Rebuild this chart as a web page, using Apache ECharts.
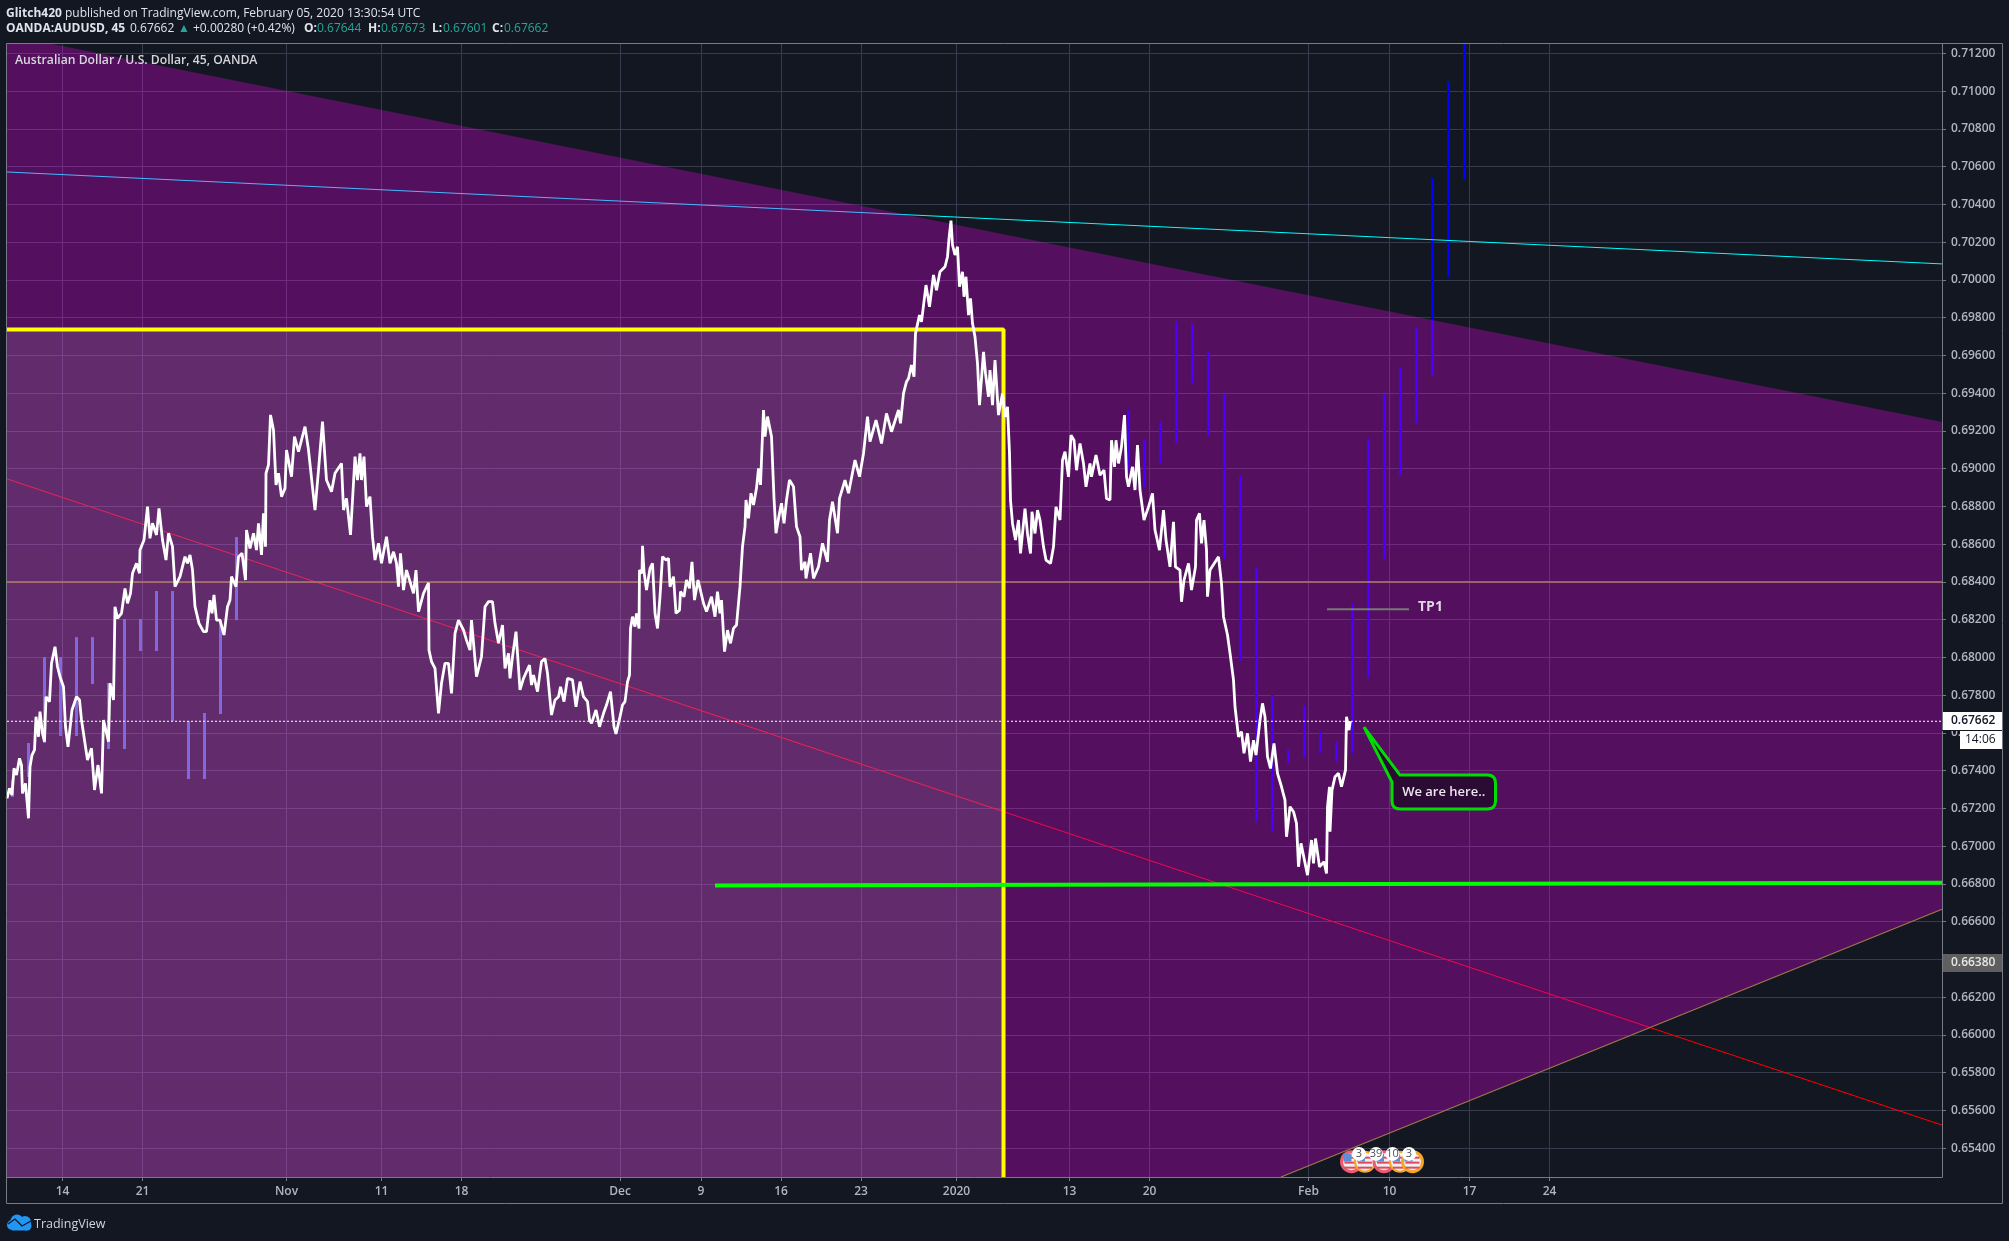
<!DOCTYPE html>
<html><head><meta charset="utf-8">
<style>html,body{margin:0;padding:0;background:#131722}#c{width:2009px;height:1241px}</style>
<script src="https://cdn.jsdelivr.net/npm/echarts@6/dist/echarts.min.js"></script>
</head><body><div id="c"></div>
<script>
// ---- axis definitions (x = 45-minute bar number, y = AUD/USD price)
const timeTickBars = [111,271,559,749,909,1226,1388,1548,1708,1899,2125,2285,2603,2765,2925,3085];
const timeTickLabels = ['14','21','Nov','11','18','Dec','9','16','23','2020','13','20','Feb','10','17','24'];
const priceTicks = [0.654,0.656,0.658,0.660,0.662,0.664,0.666,0.668,0.670,0.672,0.674,0.676,0.678,0.680,0.682,0.684,0.686,0.688,0.690,0.692,0.694,0.696,0.698,0.700,0.702,0.704,0.706,0.708,0.710,0.712];
const barMax = 3870, priceMin = 0.652477, priceMax = 0.7125;

// ---- AUD/USD close path [bar, price]
const pricePoints = [
[0,.67254],[5,.67307],[10,.67271],[14,.67413],[19,.67377],[25,.67466],[29,.6743],[31,.6728],[37,.67333],[43,.67148],[46,.67421],[50,.67483],[55,.6751],[58,.67686],[63,.6758],[66,.67713],[71,.67598],[75,.67554],[78,.67792],[85,.67766],[89,.67969],[96,.68057],[101,.67951],[106,.67898],[113,.67845],[117,.67633],[122,.67527],[126,.67519],[130,.67722],[139,.67792],[145,.67775],[149,.67669],[157,.67527],[161,.67457],[169,.67519],[175,.67298],[182,.6743],[189,.6728],[193,.67669],[203,.67554],[206,.67863],[213,.67775],[216,.68269],[221,.68207],[229,.68234],[236,.68366],[241,.68287],[247,.6834],[251,.68446],[259,.68499],[265,.68446],[266,.68569],[274,.68622],[281,.68799],[286,.68631],[291,.68711],[299,.68649],[304,.6879],[311,.68622],[318,.68516],[323,.68658],[331,.68587],[336,.68375],[346,.68428],[356,.68534],[361,.68499],[366,.68543],[371,.68463],[376,.68269],[384,.68181],[393,.68137],[399,.68137],[406,.68304],[410,.68234],[414,.68331],[419,.68198],[426,.68198],[434,.68119],[441,.68269],[446,.68304],[449,.68428],[458,.68375],[463,.68534],[470,.68552],[477,.6841],[479,.68675],[486,.68578],[493,.68658],[499,.68569],[503,.68711],[509,.68543],[513,.68764],[517,.68587],[518,.68976],[523,.6902],[527,.69285],[533,.69205],[538,.68914],[543,.68976],[549,.68852],[556,.68896],[559,.69099],[569,.68958],[575,.6917],[583,.6909],[596,.69223],[603,.69099],[613,.68852],[616,.68781],[623,.68993],[631,.69249],[639,.6894],[649,.68878],[656,.68976],[669,.69028],[673,.68781],[679,.68843],[687,.68649],[696,.69064],[701,.6894],[706,.69081],[709,.6894],[714,.69064],[719,.68799],[726,.68852],[731,.6864],[736,.68516],[743,.68605],[749,.68499],[759,.6864],[766,.68499],[773,.6856],[779,.68499],[783,.68375],[787,.68552],[793,.68357],[799,.68463],[806,.68402],[813,.6834],[818,.68463],[823,.68243],[827,.68234],[833,.6834],[843,.68396],[844,.68039],[849,.67978],[856,.67942],[863,.67704],[869,.67863],[876,.67969],[883,.67969],[889,.6781],[896,.68128],[903,.68198],[913,.68145],[919,.68092],[926,.68039],[929,.68198],[939,.67898],[949,.68004],[956,.68269],[963,.68296],[971,.68296],
[976,.68181],[983,.68075],[991,.68172],[996,.67942],[1003,.68022],[1006,.67889],[1011,.68004],[1018,.68137],[1026,.67828],[1033,.67889],[1045,.6796],[1049,.67854],[1053,.67907],[1061,.67819],[1069,.67978],[1076,.67995],[1081,.67916],[1089,.67695],[1096,.67775],[1103,.67792],[1107,.67845],[1114,.67766],[1121,.67889],[1131,.67881],[1138,.67739],[1146,.67872],[1153,.67792],[1161,.67766],[1165,.67669],[1169,.67651],[1178,.67722],[1185,.67633],[1193,.67704],[1199,.67748],[1207,.67819],[1214,.67633],[1218,.67595],[1226,.67686],[1231,.67748],[1236,.67766],[1241,.67871],[1245,.67907],[1247,.68154],[1251,.68216],[1256,.68163],[1259,.68234],[1264,.68154],[1265,.68463],[1270,.68446],[1271,.68592],[1274,.68455],[1279,.68357],[1286,.68472],[1291,.68499],[1296,.68234],[1301,.68154],[1306,.68322],[1311,.68534],[1318,.68516],[1323,.68525],[1326,.68375],[1333,.68428],[1338,.68234],[1345,.68251],[1347,.68349],[1354,.68322],[1359,.6841],[1365,.68366],[1370,.68507],[1375,.68304],[1382,.6841],[1393,.68287],[1399,.68243],[1409,.68322],[1416,.68216],[1421,.68349],[1426,.68234],[1429,.68304],[1435,.68031],[1441,.68145],[1447,.68075],[1453,.68154],[1459,.68172],[1466,.68375],[1471,.68587],[1476,.68693],[1478,.68834],[1483,.68737],[1488,.6887],[1493,.68808],[1499,.68896],[1503,.69002],[1507,.68914],[1513,.69311],[1516,.6917],[1521,.69276],[1529,.6917],[1534,.68843],[1538,.68658],[1545,.68764],[1549,.68817],[1554,.68711],[1559,.68834],[1565,.6894],[1573,.68905],[1579,.68693],[1586,.6864],[1589,.68463],[1596,.68507],[1598,.68419],[1607,.68552],[1613,.68419],[1623,.68481],[1631,.68605],[1641,.68507],[1645,.68728],[1651,.68825],[1661,.68658],[1665,.68843],[1676,.6894],[1683,.6887],[1696,.69046],[1705,.68958],[1713,.69081],[1721,.69276],[1726,.69143],[1738,.69258],[1749,.69134],[1759,.69293],[1769,.69196],[1783,.69311],[1787,.6924],[1793,.69399],[1799,.69461],
[1803,.69478],[1809,.69549],[1814,.69487],[1817,.69717],[1821,.69725],[1825,.69814],[1829,.69778],[1838,.69973],[1845,.69858],[1853,.70026],[1859,.69946],[1866,.70043],[1876,.7007],[1881,.70123],[1884,.7022],[1888,.70314],[1891,.70185],[1896,.70132],[1901,.70176],[1905,.69964],[1911,.70043],[1914,.69911],[1918,.70017],[1923,.69814],[1927,.69902],[1931,.6977],[1936,.69699],[1941,.69558],[1945,.69337],[1953,.69619],[1957,.69505],[1963,.69381],[1966,.69522],[1971,.69337],[1976,.69575],[1983,.69284],[1991,.69399],[1996,.69275],[2001,.69328],[2005,.69081],[2007,.68834],[2011,.6871],[2017,.68622],[2023,.68728],[2027,.68551],[2036,.68789],[2041,.68657],[2047,.68551],[2050,.68772],[2056,.68657],[2061,.68781],[2066,.68728],[2073,.68586],[2078,.68516],[2087,.68498],[2093,.68586],[2098,.68798],[2106,.68728],[2111,.69045],[2116,.6909],[2123,.68957],[2128,.69178],[2134,.69151],[2139,.68992],[2146,.69134],[2153,.69028],[2158,.68904],[2166,.69028],[2169,.68957],[2178,.69072],[2186,.68966],[2194,.68992],[2199,.68842],[2206,.68834],[2209,.69151],[2215,.6901],[2218,.69151],[2223,.69028],[2229,.69116],[2235,.69284],[2239,.68957],[2243,.68904],[2251,.6901],[2256,.68887],[2261,.69125],[2266,.68887],[2274,.68728],[2283,.68798],[2291,.68869],[2296,.68675],[2305,.68569],[2313,.68781],[2318,.68622],[2326,.6848],[2333,.68719],[2337,.6848],[2346,.68463],[2349,.68295],[2354,.6841],[2363,.68498],[2369,.68357],[2377,.6848],[2379,.68728],[2385,.68763],[2389,.68604],[2394,.68728],[2399,.68569],[2401,.68322],[2406,.68463],[2423,.68533],[2429,.68392],
[2433,.68216],[2441,.68119],[2447,.68004],[2453,.6788],[2456,.67739],[2463,.6758],[2469,.67607],[2474,.67492],[2481,.67598],[2487,.67448],[2493,.67562],[2498,.67483],[2506,.67668],[2511,.67757],[2516,.67686],[2521,.67474],[2527,.67412],[2534,.67545],[2541,.67386],[2549,.67315],[2556,.67244],[2559,.6705],[2566,.67209],[2573,.67183],[2579,.67121],[2583,.66891],[2588,.67015],[2601,.66847],[2609,.67033],[2613,.66909],[2617,.67041],[2625,.66891],[2634,.66918],[2639,.66856],[2641,.67209],[2645,.67315],[2646,.67077],[2650,.67297],[2656,.67368],[2663,.67386],[2669,.67315],[2677,.67403],[2679,.67686],[2684,.67615],[2686,.67651],[2687,.67662]];

// ---- projected "bars pattern" ticks [bar, low, high]
const ghostBarsLeft = [[11,.67261,.67351],[43,.67367,.67547],[75,.67547,.68002],[107,.67584,.68002],[139,.67584,.68108],[171,.67859,.68108],[203,.67515,.67865],[235,.67515,.68204],[267,.68034,.68204],[299,.68034,.68352],[331,.67663,.68352],[363,.67356,.67663],[395,.67356,.67706],[427,.677,.68198],[459,.68198,.68638]];
const ghostBarsRight = [[2243,.68993,.69311],[2275,.68903,.69152],[2307,.6903,.69247],[2339,.69136,.69782],[2371,.69454,.69772],[2403,.69173,.69618],[2435,.68522,.69396],[2467,.67981,.68961],[2499,.67128,.68474],[2531,.6708,.67801],[2563,.67441,.67515],[2595,.67473,.67743],[2627,.67494,.67605],[2659,.67446,.67552],[2691,.67494,.68283],[2723,.67891,.6916],[2755,.68522,.69396],[2787,.68961,.69533],[2819,.69242,.69745],[2851,.69491,.7054],[2883,.70016,.71054],[2915,.70532,.7125]];

// ---- drawings, in bar/price terms
const channelShape = [[0,.7125],[90,.7125],[3870,.69248],[3870,.66666],[2548,priceMin],[0,priceMin]];
const boxRight = 1993, boxTop = 0.69738;
const cyanTrend = [[0,.70572],[3870,.70085]];
const redTrend = [[0,.68946],[3870,.65523]];
const supportLine = [[1416,.66792],[3870,.66807]];
const channelFloor = [[2548,priceMin],[3870,.66666]];
const tanLevel = 0.684;
const lastPrice = 0.67662;
const tp1Line = [[2640,.68255],[2804,.68255]];
const tp1Label = [2822,.68265];
const calloutTip = [2714,.67631];
const calloutBox = [2770,2977,.67197,.67377];
const calloutPointerBase = [[2786,.67377],[2770,.6734]];
const flagBars = [2689,2716,2754,2786,2811];
const flagRings = ['#f05a6e','#f5a623','#f05a6e','#f5a623','#f5a623'];
const flagPrice = 0.65329;
const badgeBars = [2704,2738,2771,2804];
const badgeText = ['3','39','10','3'];
const badgePrice = 0.6537;

const FONT = '"Open Sans", sans-serif';
const chart = echarts.init(document.getElementById('c'));

function oneItem(renderFn, z, extra){
  return Object.assign({type:'custom', silent:true, z:z, clip:true, animation:false,
    data:[[0,priceMin]], encode:{x:0,y:1}, renderItem:renderFn}, extra||{});
}
function line(data, color, width, z, extra){
  return Object.assign({type:'line', data:data, showSymbol:false, symbol:'none', silent:true, z:z, animation:false,
    lineStyle:Object.assign({color:color,width:width},(extra||{}).ls||{})}, {});
}
function barRenderer(list, color){
  return function(p, api){
    return {type:'group', children:list.map(b=>{
      const a=api.coord([b[0],b[2]]), c=api.coord([b[0],b[1]]);
      return {type:'rect', shape:{x:a[0]-1.5,y:a[1],width:3,height:c[1]-a[1]}, style:{fill:color}};
    })};
  };
}

const option = {
  backgroundColor:'#131722', animation:false, tooltip:{show:false}, legend:{show:false},
  grid:{left:7,right:67,top:44,bottom:64,containLabel:false},
  xAxis:{type:'value',min:0,max:barMax,
    axisLine:{show:true,onZero:false,lineStyle:{color:'#787b86',width:1}},
    axisTick:{show:true,length:4,customValues:timeTickBars,lineStyle:{color:'#787b86'}},
    axisLabel:{show:true,margin:9,customValues:timeTickBars,color:'#b2b5be',fontFamily:FONT,fontSize:12,fontWeight:600,
      formatter:v=>timeTickLabels[timeTickBars.indexOf(v)]},
    splitLine:{show:true,customValues:timeTickBars,lineStyle:{color:'#363c4e',width:1}}},
  yAxis:{type:'value',position:'right',min:priceMin,max:priceMax,
    axisLine:{show:true,onZero:false,lineStyle:{color:'#787b86',width:1}},
    axisTick:{show:true,length:4,customValues:priceTicks,lineStyle:{color:'#787b86'}},
    axisLabel:{show:true,margin:9,customValues:priceTicks,color:'#b2b5be',fontFamily:FONT,fontSize:12,fontWeight:600,
      formatter:v=>v.toFixed(5)},
    splitLine:{show:true,customValues:priceTicks,lineStyle:{color:'#363c4e',width:1}}},
  series:[
    oneItem(barRenderer(ghostBarsRight,'#0000ff'),1),
    line(cyanTrend,'#00ffff',1,1),
    line(redTrend,'#ff0000',1,1),
    oneItem((p,api)=>({type:'polygon',shape:{points:channelShape.map(q=>api.coord(q))},style:{fill:'rgba(255,0,255,0.28)'}}),2),
    oneItem((p,api)=>{const a=api.coord([0,boxTop]),b=api.coord([boxRight,priceMin]);
      return {type:'rect',shape:{x:a[0],y:a[1],width:b[0]-a[0],height:b[1]-a[1]},style:{fill:'rgba(180,210,190,0.14)'}};},3),
    oneItem(barRenderer(ghostBarsLeft,'#8069e0'),4),
    line([[0,tanLevel],[barMax,tanLevel]],'#b07d62',1.5,4),
    line(channelFloor,'#a07a48',1.2,4),
    line([[0,boxTop],[boxRight,boxTop],[boxRight,priceMin]],'#ffff00',4,5),
    line(supportLine,'#00ff00',4,5),
    line([[0,lastPrice],[barMax,lastPrice]],'#ffffff',1,6,{ls:{type:[2,2]}}),
    line(tp1Line,'#787878',2,6),
    line(pricePoints,'#ffffff',2.8,7),
    oneItem((p,api)=>{const c=api.coord(tp1Label);
      return {type:'text',x:c[0],y:c[1],style:{text:'TP1',fill:'#dfd6e2',font:'700 14px '+FONT,textAlign:'left',textVerticalAlign:'middle'}};},8,{clip:false}),
    oneItem((p,api)=>{
      const t=api.coord(calloutTip), b0=api.coord(calloutPointerBase[0]), b1=api.coord(calloutPointerBase[1]);
      const l=api.coord([calloutBox[0],calloutBox[3]]), r=api.coord([calloutBox[1],calloutBox[2]]);
      const x0=l[0],y0=l[1],x1=r[0],y1=r[1],R=8;
      const d=`M${t[0]} ${t[1]}L${b0[0]} ${b0[1]}L${x1-R} ${y0}Q${x1} ${y0} ${x1} ${y0+R}L${x1} ${y1-R}Q${x1} ${y1} ${x1-R} ${y1}L${x0+R} ${y1}Q${x0} ${y1} ${x0} ${y1-R}L${b1[0]} ${b1[1]}Z`;
      return {type:'group',children:[
        {type:'path',shape:{pathData:d,layout:'cover',x:t[0],y:t[1],width:x1-t[0],height:y1-t[1]},
         style:{fill:'#2b0a33',stroke:'#00dd00',lineWidth:3,lineJoin:'miter'}},
        {type:'text',x:(x0+x1)/2,y:(y0+y1)/2,style:{text:'We are here..',fill:'#ece6ee',font:'600 13px '+FONT,textAlign:'center',textVerticalAlign:'middle'}}
      ]};
    },8,{clip:false}),
    oneItem((p,api)=>{
      const kids=[];
      flagBars.forEach((b,i)=>{
        const c=api.coord([b,flagPrice]), cx=c[0], cy=c[1], rr=10;
        kids.push({type:'circle',shape:{cx:cx,cy:cy,r:rr},style:{fill:'#eceff5',stroke:flagRings[i],lineWidth:i%2?2:3}});
        [-5,0,5].forEach(dy=>kids.push({type:'rect',shape:{x:cx-7,y:cy+dy,width:14,height:2},style:{fill:'#e24b56'}}));
        kids.push({type:'rect',shape:{x:cx-8,y:cy-8,width:8,height:8},style:{fill:'#5b8fd6'}});
      });
      badgeBars.forEach((b,i)=>{
        const c=api.coord([b,badgePrice]);
        kids.push({type:'circle',shape:{cx:c[0],cy:c[1],r:7},style:{fill:'#ffffff'}});
        kids.push({type:'text',x:c[0],y:c[1],style:{text:badgeText[i],fill:'#4a4f5c',font:'11px '+FONT,textAlign:'center',textVerticalAlign:'middle'}});
      });
      return {type:'group',children:kids};
    },9,{clip:false})
  ],
  graphic:{elements:[
    // outer frame
    {type:'rect',z:50,silent:true,shape:{x:6.5,y:43.5,width:1996,height:1160},style:{fill:null,stroke:'#787b86',lineWidth:1}},
    // header
    {type:'text',z:60,silent:true,x:6,y:8,style:{text:'{b|Glitch420} published on TradingView.com, February 05, 2020 13:30:54 UTC',fill:'#e0e3eb',font:'12px '+FONT,
      rich:{b:{fontWeight:700,fontSize:12,fontFamily:FONT,fill:'#e0e3eb'}}}},
    ...[['OANDA:AUDUSD, 45',6,'#e0e3eb',700],['0.67662',130,'#e0e3eb',400],['▲',178,'#26a69a',400],['+0.00280 (+0.42%)',193,'#e0e3eb',400],
        ['O:',304,'#e0e3eb',700],['0.67644',317,'#26a69a',400],['H:',368,'#e0e3eb',700],['0.67673',381,'#26a69a',400],
        ['L:',432,'#e0e3eb',700],['0.67601',443,'#26a69a',400],['C:',492,'#e0e3eb',700],['0.67662',504,'#26a69a',400]]
      .map(s=>({type:'text',z:60,silent:true,x:s[1],y:23,style:{text:s[0],fill:s[2],font:s[3]+' 12px '+FONT}})),
    {type:'text',z:60,silent:true,x:15,y:55,style:{text:'Australian Dollar / U.S. Dollar, 45, OANDA',fill:'#d6d6dc',font:'600 12.2px '+FONT}},
    // price tags on the axis
    {type:'rect',z:60,silent:true,shape:{x:1943,y:712,width:59,height:18},style:{fill:'#ffffff'}},
    {type:'text',z:61,silent:true,x:1951,y:721,style:{text:'0.67662',fill:'#131722',font:'600 12px '+FONT,textVerticalAlign:'middle'}},
    {type:'rect',z:60,silent:true,shape:{x:1960,y:731,width:42,height:18},style:{fill:'#ffffff'}},
    {type:'text',z:61,silent:true,x:1965,y:740,style:{text:'14:06',fill:'#131722',font:'12px '+FONT,textVerticalAlign:'middle'}},
    {type:'rect',z:60,silent:true,shape:{x:1942,y:730,width:60,height:1},style:{fill:'#131722'}},
    {type:'rect',z:60,silent:true,shape:{x:1943,y:954,width:59,height:18},style:{fill:'#5f5f5f'}},
    {type:'text',z:61,silent:true,x:1951,y:963,style:{text:'0.66380',fill:'#e6e6e6',font:'600 12px '+FONT,textVerticalAlign:'middle'}},
    // TradingView logo
    {type:'group',z:60,silent:true,children:[
      {type:'circle',shape:{cx:12,cy:1225,r:5},style:{fill:'#2196f3'}},
      {type:'circle',shape:{cx:17,cy:1221,r:6.5},style:{fill:'#2196f3'}},
      {type:'circle',shape:{cx:25,cy:1222,r:6},style:{fill:'#2196f3'}},
      {type:'circle',shape:{cx:27,cy:1226,r:4.5},style:{fill:'#2196f3'}},
      {type:'rect',shape:{x:12,y:1224,width:15,height:6.5},style:{fill:'#2196f3'}},
      {type:'polyline',shape:{points:[[8,1224],[15,1219],[22,1226],[31,1221]]},style:{stroke:'#131722',lineWidth:1.3,fill:null}}
    ]},
    {type:'text',z:60,silent:true,x:34,y:1224,style:{text:'TradingView',fill:'#d1d4dc',font:'12.5px '+FONT,textVerticalAlign:'middle'}}
  ]}
};
chart.setOption(option);
</script></body></html>
